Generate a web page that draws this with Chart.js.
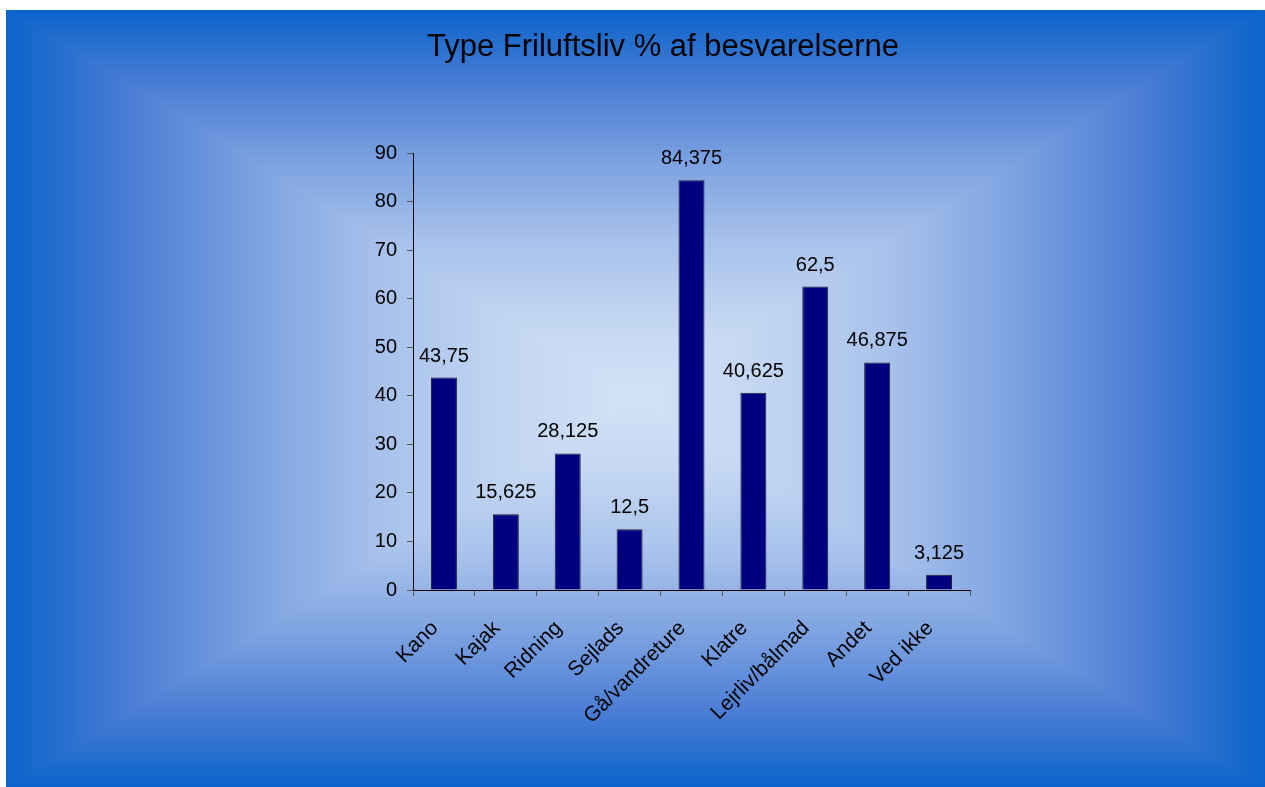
<!DOCTYPE html>
<html>
<head>
<meta charset="utf-8">
<script src="https://cdn.jsdelivr.net/npm/chart.js@4/dist/chart.umd.min.js"></script>
<style>
  body { margin: 0; background: #fff; }
  canvas { display: block; }
</style>
</head>
<body>
<canvas id="friluftChart" width="1265" height="787"></canvas>
<script>
const kategorier = ['Kano', 'Kajak', 'Ridning', 'Sejlads', 'Gå/vandreture', 'Klatre', 'Lejrliv/bålmad', 'Andet', 'Ved ikke'];
const procent = [43.75, 15.625, 28.125, 12.5, 84.375, 40.625, 62.5, 46.875, 3.125];
const yTicks = [0, 10, 20, 30, 40, 50, 60, 70, 80, 90];
const titel = 'Type Friluftsliv % af besvarelserne';

const fnt = '"Liberation Sans", Arial, sans-serif';

// baggrund: rektangulær gradient fra midten (som i Excel)
const bgPlugin = {
    id: 'bg',
    beforeDraw(chart) {
        const c = chart.ctx;
        const x0 = 6, y0 = 10, x1 = 1265, y1 = 787;
        const cx = (x0 + x1) / 2, cy = (y0 + y1) / 2;
        const stops = (g, sym) => {
            const s = [[0, '#0b64cb'], [0.2, '#4c7ed5'], [0.4, '#7ea3e1'], [0.6, '#a8c2eb'], [0.8, '#c3d6f2'], [1, '#d2e3f7']];
            s.forEach(([p, col]) => {
                if (sym) {
                    g.addColorStop(p / 2, col);
                    g.addColorStop(1 - p / 2, col);
                } else g.addColorStop(p, col);
            });
            return g;
        };
        c.save();
        // top/bund som grund, så der ikke kommer sømme
        c.fillStyle = stops(c.createLinearGradient(0, y0, 0, y1), true);
        c.fillRect(x0, y0, x1 - x0, y1 - y0);
        const tri = (pts, g) => {
            c.beginPath();
            c.moveTo(pts[0][0], pts[0][1]);
            c.lineTo(pts[1][0], pts[1][1]);
            c.lineTo(pts[2][0], pts[2][1]);
            c.closePath();
            c.fillStyle = stops(g);
            c.fill();
        };
        tri([[x0, y0], [x0, y1], [cx, cy]], c.createLinearGradient(x0, 0, cx, 0));
        tri([[x1, y0], [x1, y1], [cx, cy]], c.createLinearGradient(x1, 0, cx, 0));
        // titel
        c.font = '31px ' + fnt;
        c.fillStyle = '#000';
        c.textAlign = 'center';
        c.textBaseline = 'middle';
        c.fillText(titel, 663, 47);
        c.restore();
    }
};

// værdier over søjlerne
const labelPlugin = {
    id: 'vaerdier',
    afterDatasetsDraw(chart) {
        const c = chart.ctx;
        c.save();
        c.font = '20px ' + fnt;
        c.fillStyle = '#000';
        c.textAlign = 'center';
        c.textBaseline = 'alphabetic';
        chart.getDatasetMeta(0).data.forEach((bar, i) => {
            c.fillText(String(procent[i]).replace('.', ','), bar.x, bar.y - 16);
        });
        c.restore();
    }
};

new Chart(document.getElementById('friluftChart'), {
    type: 'bar',
    data: {
        labels: kategorier,
        datasets: [{
            data: procent,
            backgroundColor: '#000080',
            borderColor: '#222',
            borderWidth: 1,
            barPercentage: 0.42,
            categoryPercentage: 1
        }]
    },
    options: {
        responsive: false,
        animation: false,
        layout: { padding: { left: 0, top: 153, right: 295, bottom: 0 } },
        plugins: {
            legend: { display: false },
            tooltip: { enabled: false },
            title: { display: false }
        },
        scales: {
            x: {
                afterFit(s) { s.height = 197; },
                grid: { offset: true, drawOnChartArea: false, tickLength: 6, color: '#555' },
                border: { color: '#000', width: 1 },
                ticks: {
                    color: '#000',
                    font: { size: 21, family: fnt },
                    minRotation: 45, maxRotation: 45,
                    padding: 20,
                    labelOffset: -9
                }
            },
            y: {
                min: 0, max: 90,
                afterFit(s) { s.width = 413; },
                afterBuildTicks(s) { s.ticks = yTicks.map(v => ({ value: v })); },
                grid: { drawOnChartArea: false, tickLength: 6, color: '#555' },
                border: { color: '#000', width: 1 },
                ticks: {
                    color: '#000',
                    font: { size: 20, family: fnt },
                    padding: 10
                }
            }
        }
    },
    plugins: [bgPlugin, labelPlugin]
});
</script>
</body>
</html>
